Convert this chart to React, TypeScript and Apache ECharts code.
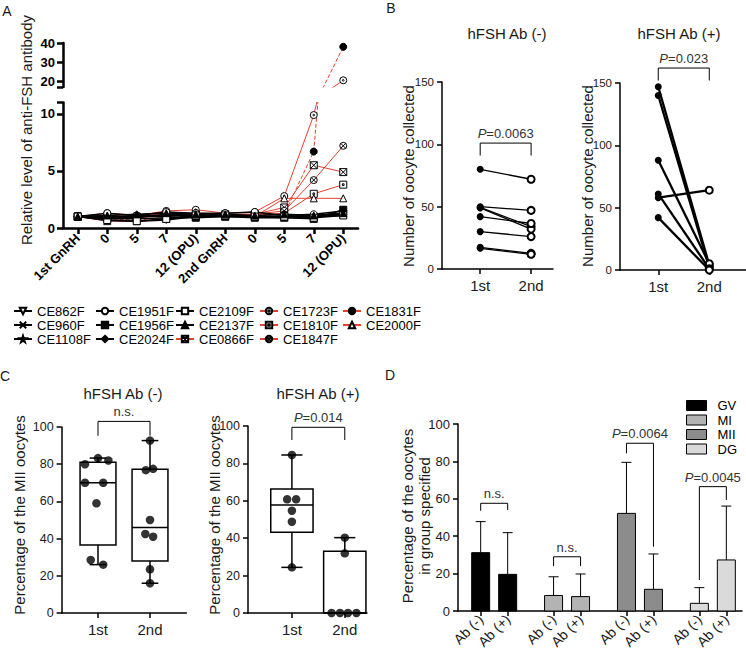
import React, { useEffect, useRef } from 'react';
import * as echarts from 'echarts';

const FONT = '"Liberation Sans", Arial, Helvetica, sans-serif';
const RED = '#e4412f';

// ---------------- Panel A ----------------
const aTimeLabels = ['1st GnRH', '0', '5', '7', '12 (OPU)', '2nd GnRH', '0', '5', '7', '12 (OPU)'];
const aUpperTicks = [20, 30, 40];
const aLowerTicks = [0, 5, 10];
const CE862F = [1, 0.65, 0.6, 0.7, 1.0, 1.1, 1.0, 1.0, 1.0, 1.2];
const CE960F = [1, 1.0, 1.0, 1.1, 1.0, 1.0, 1.0, 0.9, 1.0, 1.1];
const CE1108F = [1, 1.0, 0.9, 1.2, 1.1, 1.1, 1.0, 1.0, 1.1, 1.3];
const CE1951F = [1, 1.3, 1.1, 1.4, 1.3, 1.3, 1.4, 1.1, 1.2, 1.5];
const CE1956F = [1, 0.8, 0.8, 0.9, 0.9, 1.0, 0.9, 0.9, 0.8, 1.6];
const CE2024F = [1, 0.9, 1.1, 1.0, 1.2, 1.0, 1.0, 1.0, 1.0, 1.2];
const CE2109F = [1, 0.7, 0.6, 0.8, 1.1, 1.1, 1.0, 1.0, 0.9, 1.1];
const CE2137F = [1, 1.1, 1.2, 1.3, 1.2, 1.2, 1.1, 1.2, 1.1, 1.3];
const CE0866F = [1, 1.0, 0.9, 1.1, 1.2, 1.2, 1.2, 1.8, 5.5, 4.9];
const CE1723F = [1, 1.3, 1.1, 1.5, 1.6, 1.3, 1.4, 2.8, 9.9, 20.5];
const CE1810F = [1, 0.9, 1.0, 1.2, 1.1, 1.1, 1.1, 1.3, 3.0, 3.8];
const CE1847F = [1, 1.1, 1.0, 1.3, 1.3, 1.2, 1.2, 1.5, 4.2, 7.2];
const CE1831F = [1, 0.8, 0.7, 0.9, 1.1, 1.1, 1.2, 1.2, 6.7, 38];
const CE2000F = [1, 0.6, 0.6, 0.8, 1.0, 1.0, 1.0, 2.6, 2.6, 2.6];

const aValues: Record<string, number[]> = {
  CE862F, CE960F, CE1108F, CE1951F, CE1956F, CE2024F, CE2109F, CE2137F,
  CE0866F, CE1723F, CE1810F, CE1847F, CE1831F, CE2000F,
};
const aLegendColumns = [
  ['CE862F', 'CE960F', 'CE1108F'],
  ['CE1951F', 'CE1956F', 'CE2024F'],
  ['CE2109F', 'CE2137F', 'CE0866F'],
  ['CE1723F', 'CE1810F', 'CE1847F'],
  ['CE1831F', 'CE2000F'],
];

const SYM = {
  downTri: 'path://M0,0L10,0L5,9Z',
  cross: 'path://M0,0L10,10M10,0L0,10',
  star: 'path://M5,0L6.2,3.6L10,3.6L7,5.9L8.1,9.5L5,7.3L1.9,9.5L3,5.9L0,3.6L3.8,3.6Z',
  squareX: 'path://M0,0L10,0L10,10L0,10Z M0,0L10,10 M10,0L0,10',
  circleDot: 'path://M0,5A5,5 0 1,1 10,5A5,5 0 1,1 0,5Z M3.8,5A1.2,1.2 0 1,1 6.2,5A1.2,1.2 0 1,1 3.8,5Z',
  squareDot: 'path://M0,0L10,0L10,10L0,10Z M3.8,3.8L6.2,3.8L6.2,6.2L3.8,6.2Z',
  circleX: 'path://M0,5A5,5 0 1,1 10,5A5,5 0 1,1 0,5Z M1.6,1.6L8.4,8.4M8.4,1.6L1.6,8.4',
};

const aStyle: Record<string, { symbol: string; fill: string; red: boolean; dashed?: boolean }> = {
  CE862F: { symbol: SYM.downTri, fill: '#fff', red: false },
  CE960F: { symbol: SYM.cross, fill: '#fff', red: false },
  CE1108F: { symbol: SYM.star, fill: '#000', red: false },
  CE1951F: { symbol: 'circle', fill: '#fff', red: false },
  CE1956F: { symbol: 'rect', fill: '#000', red: false },
  CE2024F: { symbol: 'diamond', fill: '#000', red: false },
  CE2109F: { symbol: 'rect', fill: '#fff', red: false },
  CE2137F: { symbol: 'triangle', fill: '#000', red: false },
  CE0866F: { symbol: SYM.squareX, fill: '#fff', red: true },
  CE1723F: { symbol: SYM.circleDot, fill: '#fff', red: true },
  CE1810F: { symbol: SYM.squareDot, fill: '#fff', red: true },
  CE1847F: { symbol: SYM.circleX, fill: '#fff', red: true },
  CE1831F: { symbol: 'circle', fill: '#000', red: true, dashed: true },
  CE2000F: { symbol: 'triangle', fill: '#fff', red: true },
};

// ---------------- Panel B ----------------
const bXLabels = ['1st', '2nd'];
const bNegFirst = [80, 50, 49.5, 49, 42, 30, 17.4, 16.6];
const bNegSecond = [72, 47, 34, 32, 36.5, 26, 12.6, 11.8];
const bPosFirst = [147, 140, 88, 61, 58, 42];
const bPosSecond = [4, 2, 5, 1, 64, 0];
const bBracketNeg = [[1, 2, 101, 91, 91]];
const bBracketPos = [[1, 2, 162, 152, 152]];
const bLabelNeg = ['P=0.0063'];
const bLabelPos = ['P=0.023'];

// ---------------- Panel C ----------------
const cNegFirst = [80, 83.3, 82, 70, 70, 59, 28.5, 26];
const cNegFirstJitter = [-0.25, 0, 0.2, -0.25, 0.1, -0.03, -0.14, 0.1];
const cNegSecond = [92.7, 76.8, 77.5, 50, 42.5, 41, 23.5, 16];
const cNegSecondJitter = [0, -0.08, 0.06, 0, -0.09, 0.06, 0, 0];
const cPosFirst = [84.5, 60.8, 60.8, 54.7, 48.8, 24.4];
const cPosFirstJitter = [0, -0.09, 0.08, 0, 0, 0];
const cPosSecond = [40.3, 31.9, 0, 0, 0, 0];
const cPosSecondJitter = [0, 0, -0.25, -0.09, 0.06, 0.22];
// [x, min, q1, median, q3, max]
const cNegBoxes = [[1, 26, 36.5, 70, 81, 83.3], [2, 16, 28, 46, 77.3, 92.7]];
const cPosBoxes = [[1, 24.4, 43.2, 57.8, 66.3, 84.5], [2, 0, 0, 0, 33, 40.3]];
const cBracketNeg = [[1, 2, 103, 95.3, 95.3]];
const cBracketPos = [[1, 2, 99.3, 92.5, 92.5]];
const cLabelNeg = ['n.s.'];
const cLabelPos = ['P=0.014'];

// ---------------- Panel D ----------------
const dGroups = ['GV', 'MI', 'MII', 'DG'];
const dAbLabels = ['Ab (-)', 'Ab (+)'];
const dColors = ['#000000', '#b3b3b3', '#8c8c8c', '#dadada'];
const gvMean = [31.2, 19.6];
const gvSD = [16.6, 22.3];
const miMean = [8.3, 7.7];
const miSD = [10.0, 12.1];
const miiMean = [52.2, 11.6];
const miiSD = [27.3, 18.9];
const dgMean = [4.1, 27.3];
const dgSD = [8.4, 28.8];
const dMeans = [gvMean, miMean, miiMean, dgMean];
const dSDs = [gvSD, miSD, miiSD, dgSD];
// bracket: [top, leftLegEnd, rightLegEnd]
const dBracketY = [[57.6, 53.6, 54], [29, 24, 24], [89.7, 84.3, 34.4], [66.5, 16.6, 59.4]];
const dBracketLabels = ['n.s.', 'n.s.', 'P=0.0064', 'P=0.0045'];
const D_GROUP_STEP = 2.7;
const dPos = dGroups.flatMap((_, g) => [g * D_GROUP_STEP, g * D_GROUP_STEP + 1]);

// ------------- helpers -------------
const bracketRender = (labels: string[]) => (params: any, api: any) => {
  const x1 = api.value(0), x2 = api.value(1), yt = api.value(2), yl = api.value(3), yr = api.value(4);
  const pL = api.coord([x1, yl]);
  const pLT = api.coord([x1, yt]);
  const pRT = api.coord([x2, yt]);
  const pR = api.coord([x2, yr]);
  const label: string = labels[params.dataIndex];
  const isP = label.startsWith('P=');
  return {
    type: 'group',
    children: [
      { type: 'polyline', shape: { points: [pL, pLT, pRT, pR] }, style: { stroke: '#000', fill: 'none', lineWidth: 1 } },
      {
        type: 'text',
        x: (pLT[0] + pRT[0]) / 2,
        y: pLT[1] - 3,
        style: {
          text: isP ? '{i|P}=' + label.slice(2) : label,
          textAlign: 'center',
          textVerticalAlign: 'bottom',
          fill: '#333',
          fontSize: 13,
          fontFamily: FONT,
          rich: { i: { fontStyle: 'italic', fontSize: 13, fontFamily: FONT, fill: '#333' } },
        },
      },
    ],
  };
};

const boxRender = (boxW: number, capW: number) => (params: any, api: any) => {
  const x = api.value(0);
  const mn = api.value(1), q1 = api.value(2), md = api.value(3), q3 = api.value(4), mx = api.value(5);
  const [cx, yMin] = api.coord([x, mn]);
  const yQ1 = api.coord([x, q1])[1];
  const yMd = api.coord([x, md])[1];
  const yQ3 = api.coord([x, q3])[1];
  const yMax = api.coord([x, mx])[1];
  const w = api.size([boxW, 0])[0];
  const cw = api.size([capW, 0])[0];
  const ls = { stroke: '#000', lineWidth: 1.5 };
  return {
    type: 'group',
    children: [
      { type: 'rect', shape: { x: cx - w / 2, y: yQ3, width: w, height: yQ1 - yQ3 }, style: { fill: 'none', stroke: '#000', lineWidth: 1.5 } },
      { type: 'line', shape: { x1: cx - w / 2, y1: yMd, x2: cx + w / 2, y2: yMd }, style: ls },
      { type: 'line', shape: { x1: cx, y1: yQ3, x2: cx, y2: yMax }, style: ls },
      { type: 'line', shape: { x1: cx, y1: yQ1, x2: cx, y2: yMin }, style: ls },
      { type: 'line', shape: { x1: cx - cw / 2, y1: yMax, x2: cx + cw / 2, y2: yMax }, style: ls },
      { type: 'line', shape: { x1: cx - cw / 2, y1: yMin, x2: cx + cw / 2, y2: yMin }, style: ls },
    ],
  };
};

const barRender = (params: any, api: any) => {
  const x = api.value(0), m = api.value(1), sd = api.value(2);
  const [cx, y0] = api.coord([x, 0]);
  const yM = api.coord([x, m])[1];
  const yE = api.coord([x, m + sd])[1];
  const bw = 18, cap = 10;
  const ls = { stroke: '#000', lineWidth: 1 };
  return {
    type: 'group',
    children: [
      { type: 'line', shape: { x1: cx, y1: yM, x2: cx, y2: yE }, style: ls },
      { type: 'line', shape: { x1: cx - cap / 2, y1: yE, x2: cx + cap / 2, y2: yE }, style: ls },
      { type: 'rect', shape: { x: cx - bw / 2, y: yM, width: bw, height: y0 - yM }, style: { fill: api.visual('color'), stroke: '#000', lineWidth: 1 } },
    ],
  };
};

const axisLineStyle = (w: number) => ({ show: true, onZero: false, lineStyle: { color: '#000', width: w } });
const tickStyle = (w: number, len: number, custom?: number[]) => ({
  show: true, length: len, lineStyle: { color: '#000', width: w }, ...(custom ? { customValues: custom } : {}),
});

const catXLabel = (v: number) => bXLabels[Math.round(v) - 1] ?? '';

function buildOption() {
  const grid = [
    { left: 63, top: 43, width: 295, height: 44 },
    { left: 63, top: 102.5, width: 295, height: 125.5 },
    { left: 442, top: 82, width: 111, height: 187 },
    { left: 620, top: 83, width: 126, height: 187 },
    { left: 61.6, top: 427, width: 124.8, height: 186 },
    { left: 248, top: 426, width: 119, height: 187 },
    { left: 458, top: 424, width: 284, height: 187 },
  ].map((g) => ({ ...g, containLabel: false, outerBoundsMode: 'none' }));

  const regLabel = (size: number, extra: any = {}) => ({ fontSize: size, color: '#1a1a1a', fontFamily: FONT, ...extra });

  const xAxis: any[] = [
    { gridIndex: 0, type: 'category', data: aTimeLabels, show: false },
    {
      gridIndex: 1, type: 'category', data: aTimeLabels,
      axisLine: axisLineStyle(2.5),
      axisTick: { ...tickStyle(2.5, 6), alignWithLabel: true },
      axisLabel: { interval: 0, rotate: 45, color: '#000', fontWeight: 'bold', fontSize: 13, fontFamily: FONT, margin: 8 },
      splitLine: { show: false },
    },
  ];
  const bcX = (gi: number, min: number, max: number) => ({
    gridIndex: gi, type: 'value', min, max,
    axisLine: axisLineStyle(1.5),
    axisTick: tickStyle(1.5, 5, [1, 2]),
    axisLabel: regLabel(15, { customValues: [1, 2], formatter: catXLabel, margin: 9 }),
    splitLine: { show: false },
  });
  xAxis.push(bcX(2, 0.25, 2.43), bcX(3, 0.25, 2.72), bcX(4, 0.3, 2.7), bcX(5, 0.17, 2.42));
  xAxis.push({
    gridIndex: 6, type: 'value', min: -0.84, max: 9.68,
    axisLine: axisLineStyle(1.5),
    axisTick: tickStyle(1.5, 5, dPos),
    axisLabel: regLabel(14, {
      customValues: dPos, rotate: 45, margin: 6,
      formatter: (v: number) => {
        const k = dPos.findIndex((p) => Math.abs(p - v) < 1e-6);
        return k >= 0 ? dAbLabels[k % 2] : '';
      },
    }),
    splitLine: { show: false },
  });

  const yAxis: any[] = [
    {
      gridIndex: 0, type: 'value', min: 17, max: 40,
      axisLine: axisLineStyle(2.5), axisTick: tickStyle(2.5, 6, [17, ...aUpperTicks]),
      axisLabel: { customValues: aUpperTicks, color: '#000', fontWeight: 'bold', fontSize: 13, fontFamily: FONT },
      splitLine: { show: false },
    },
    {
      gridIndex: 1, type: 'value', min: 0, max: 11,
      axisLine: axisLineStyle(2.5), axisTick: tickStyle(2.5, 6, [...aLowerTicks, 11]),
      axisLabel: { customValues: aLowerTicks, color: '#000', fontWeight: 'bold', fontSize: 13, fontFamily: FONT },
      splitLine: { show: false },
    },
  ];
  const valY = (gi: number, max: number, interval: number, size: number) => ({
    gridIndex: gi, type: 'value', min: 0, max, interval,
    axisLine: axisLineStyle(1.5), axisTick: tickStyle(1.5, 5),
    axisLabel: regLabel(size), splitLine: { show: false },
  });
  yAxis.push(valY(2, 150, 50, 11.5), valY(3, 150, 50, 11.5), valY(4, 100, 20, 12.5), valY(5, 100, 20, 12.5), valY(6, 100, 20, 13));

  const series: any[] = [];

  // Panel A: red first so black drawn on top
  const aOrder = Object.keys(aValues).sort((a, b) => Number(aStyle[b].red) - Number(aStyle[a].red));
  aOrder.forEach((name) => {
    const st = aStyle[name];
    [0, 1].forEach((g) => {
      series.push({
        type: 'line', name, xAxisIndex: g, yAxisIndex: g,
        data: aValues[name],
        symbol: st.symbol, symbolSize: 7, showAllSymbol: true, clip: true,
        lineStyle: { color: st.red ? RED : '#000', width: st.red ? 1 : 1.5, type: st.dashed ? 'dashed' : 'solid' },
        itemStyle: { color: st.fill, borderColor: '#000', borderWidth: 1 },
        z: st.red ? 2 : 3,
        emphasis: { disabled: true }, silent: true,
      });
    });
  });

  // Panel B
  const pairSeries = (gi: number, first: number[], second: number[], width: number) => {
    first.forEach((v, i) => {
      series.push({
        type: 'line', name: `B${gi}-${i}`, xAxisIndex: gi, yAxisIndex: gi,
        data: [
          { value: [1, v], symbol: 'circle', itemStyle: { color: '#000', borderColor: '#000', borderWidth: 0 } },
          { value: [2, second[i]], symbol: 'circle', itemStyle: { color: '#fff', borderColor: '#000', borderWidth: 2 } },
        ],
        symbolSize: 7, lineStyle: { color: '#000', width }, z: 3,
        emphasis: { disabled: true }, silent: true,
      });
    });
  };
  pairSeries(2, bNegFirst, bNegSecond, 1.3);
  pairSeries(3, bPosFirst, bPosSecond, 2.3);
  series.push(
    { type: 'custom', xAxisIndex: 2, yAxisIndex: 2, data: bBracketNeg, encode: { x: [0, 1], y: [2, 3, 4] }, renderItem: bracketRender(bLabelNeg), silent: true },
    { type: 'custom', xAxisIndex: 3, yAxisIndex: 3, data: bBracketPos, encode: { x: [0, 1], y: [2, 3, 4] }, renderItem: bracketRender(bLabelPos), silent: true },
  );

  // Panel C
  series.push(
    { type: 'custom', xAxisIndex: 4, yAxisIndex: 4, data: cNegBoxes, encode: { x: 0, y: [1, 2, 3, 4, 5] }, renderItem: boxRender(0.69, 0.32), silent: true, z: 2 },
    { type: 'custom', xAxisIndex: 5, yAxisIndex: 5, data: cPosBoxes, encode: { x: 0, y: [1, 2, 3, 4, 5] }, renderItem: boxRender(0.8, 0.4), silent: true, z: 2 },
  );
  const scat = (gi: number, base: number, vals: number[], jit: number[]) => ({
    type: 'scatter', xAxisIndex: gi, yAxisIndex: gi,
    data: vals.map((v, i) => [base + jit[i], v]),
    symbol: 'circle', symbolSize: 8.5, itemStyle: { color: '#000' }, z: 4, silent: true,
  });
  series.push(
    scat(4, 1, cNegFirst, cNegFirstJitter), scat(4, 2, cNegSecond, cNegSecondJitter),
    scat(5, 1, cPosFirst, cPosFirstJitter), scat(5, 2, cPosSecond, cPosSecondJitter),
    { type: 'custom', xAxisIndex: 4, yAxisIndex: 4, data: cBracketNeg, encode: { x: [0, 1], y: [2, 3, 4] }, renderItem: bracketRender(cLabelNeg), silent: true },
    { type: 'custom', xAxisIndex: 5, yAxisIndex: 5, data: cBracketPos, encode: { x: [0, 1], y: [2, 3, 4] }, renderItem: bracketRender(cLabelPos), silent: true },
  );

  // Panel D
  dGroups.forEach((name, g) => {
    series.push({
      type: 'custom', name, xAxisIndex: 6, yAxisIndex: 6,
      data: [0, 1].map((s) => [dPos[g * 2 + s], dMeans[g][s], dSDs[g][s]]),
      encode: { x: 0, y: [1, 2] },
      itemStyle: { color: dColors[g], borderColor: '#000', borderWidth: 1 },
      renderItem: barRender, silent: true,
    });
  });
  series.push({
    type: 'custom', xAxisIndex: 6, yAxisIndex: 6,
    data: dGroups.map((_, g) => [dPos[g * 2], dPos[g * 2 + 1], ...dBracketY[g]]),
    encode: { x: [0, 1], y: [2, 3, 4] },
    renderItem: bracketRender(dBracketLabels), silent: true,
  });

  const legendLefts = [13, 95, 175, 259, 342];
  const legend: any[] = aLegendColumns.map((col, i) => ({
    data: col, orient: 'vertical', left: legendLefts[i], top: 304.5,
    itemWidth: 18, itemHeight: 8, itemGap: 1, padding: 0, selectedMode: false,
    textStyle: { fontSize: 13, fontFamily: FONT, color: '#000' },
  }));
  legend.push({
    data: dGroups, orient: 'vertical', left: 686, top: 399,
    icon: 'rect', itemWidth: 20, itemHeight: 10, itemGap: 1.5, padding: 0, selectedMode: false,
    itemStyle: { borderColor: '#000', borderWidth: 1 },
    textStyle: { fontSize: 13, fontFamily: FONT, color: '#000', padding: [0, 0, 0, 6] },
  });

  const txt = (text: string, x: number, y: number, size: number, rotate = false, extra: any = {}) => ({
    type: 'text', x, y, rotation: rotate ? Math.PI / 2 : 0, silent: true,
    style: { text, textAlign: 'center', textVerticalAlign: 'middle', fill: '#1a1a1a', font: `${size}px ${FONT}`, ...extra },
  });
  const graphic = [
    txt('A', 7, 11, 14),
    txt('B', 391, 8, 14),
    txt('C', 5, 376, 14),
    txt('D', 390, 375, 14),
    txt('hFSH Ab (-)', 507, 33, 15),
    txt('hFSH Ab (+)', 679, 33, 15),
    txt('hFSH Ab (-)', 123, 393, 15),
    txt('hFSH Ab (+)', 318, 393, 15),
    txt('Relative level of anti-FSH antibody', 26, 130, 15, true),
    txt('Number of oocyte collected', 408, 176, 15, true),
    txt('Number of oocyte collected', 587, 176, 15, true),
    txt('Percentage of the MII oocytes', 19, 515, 15, true),
    txt('Percentage of the MII oocytes', 214, 515, 15, true),
    txt('Percentage of the oocytes\nin group specified', 416, 516, 15, true, { lineHeight: 17 }),
  ];

  return {
    animation: false,
    textStyle: { fontFamily: FONT },
    grid, xAxis, yAxis, series, legend, graphic,
  };
}

export default function App() {
  const ref = useRef<HTMLDivElement>(null);
  useEffect(() => {
    if (!ref.current) return;
    const chart = echarts.init(ref.current, undefined, { renderer: 'svg' });
    chart.setOption(buildOption() as any);
    return () => chart.dispose();
  }, []);
  return (
    <div
      ref={ref}
      style={{ position: 'absolute', left: 0, top: 0, width: 746, height: 658, background: '#fff' }}
    />
  );
}
